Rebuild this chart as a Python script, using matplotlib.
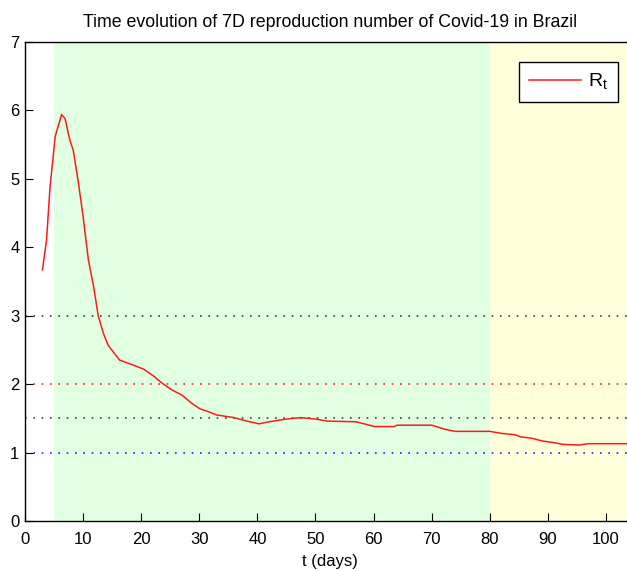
import matplotlib
matplotlib.use("Agg")
import matplotlib.pyplot as plt

# 7-day reproduction number, Brazil
days = [3, 3.7, 4.3, 5.2, 6.3, 6.9, 7.7, 8.3, 9.2, 10, 10.9, 11.8, 12.6, 13.5, 14.3, 15.2,
        16.3, 18.6, 20.4, 22.1, 23.5, 25.2, 27, 28.7, 30.1, 31.5, 33, 36, 38.2, 40.3, 42,
        45, 47.5, 50, 52, 57, 60.2, 63.6, 64, 70, 72.3, 74, 80, 82, 84.4, 85.3, 87.2, 89,
        91.4, 92.5, 95.4, 97, 100, 105]
rt = [3.67, 4.1, 4.87, 5.62, 5.94, 5.88, 5.57, 5.42, 4.94, 4.45, 3.82, 3.43, 3.0, 2.74,
      2.57, 2.47, 2.35, 2.28, 2.22, 2.12, 2.02, 1.92, 1.84, 1.72, 1.64, 1.60, 1.55, 1.51,
      1.46, 1.42, 1.45, 1.49, 1.51, 1.49, 1.46, 1.45, 1.38, 1.38, 1.40, 1.40, 1.34, 1.31,
      1.31, 1.28, 1.26, 1.23, 1.21, 1.17, 1.14, 1.12, 1.11, 1.13, 1.13, 1.13]

# reference levels and their colours
levels = [3, 2, 1.5, 1]
level_colors = ["#404040", "#ff2020", "#404040", "#2020ff"]

# shaded phases
phases = [(5, 80), (80, 105)]
phase_colors = ["#e1ffe1", "#ffffdc"]

plt.rcParams["font.family"] = ["Liberation Sans Narrow", "Liberation Sans", "DejaVu Sans"]

fig = plt.figure(figsize=(6.27, 5.71), dpi=100)
ax = fig.add_axes([25 / 627, 50 / 571, 105 * 5.81 / 627, 479 / 571])

for (a, b), c in zip(phases, phase_colors):
    ax.axvspan(a, b, color=c, lw=0, zorder=0)

for lv, c in zip(levels, level_colors):
    ax.axhline(lv, color=c, lw=1.2, linestyle=(0, (1, 4)), zorder=1)

ax.plot(days, rt, color="#ff1a1a", lw=1.1, label=r"R$_\mathregular{t}$", zorder=3)

ax.set_xlim(0, 105)
ax.set_ylim(0, 7)
ax.set_xticks(range(0, 101, 10))
ax.set_yticks(range(0, 8))
ax.tick_params(direction="in", length=6, labelsize=12, colors="black", pad=8)
ax.tick_params(axis="y", pad=4)
ax.spines["right"].set_visible(False)
for s in ["left", "bottom", "top"]:
    ax.spines[s].set_linewidth(1.0)

ax.set_xlabel("t (days)", fontsize=12, labelpad=5)
ax.set_title("Time evolution of 7D reproduction number of Covid-19 in Brazil", fontsize=12.8, pad=11)

leg = ax.legend(loc="upper right", bbox_to_anchor=(618 / 627, 1 - 62 / 571),
                bbox_transform=fig.transFigure, borderaxespad=0, fancybox=False,
                framealpha=1, edgecolor="black", fontsize=14, handlelength=2.7,
                handletextpad=0.35, borderpad=0.5)
leg.get_frame().set_linewidth(1.0)

fig.savefig("out.png", dpi=100)
